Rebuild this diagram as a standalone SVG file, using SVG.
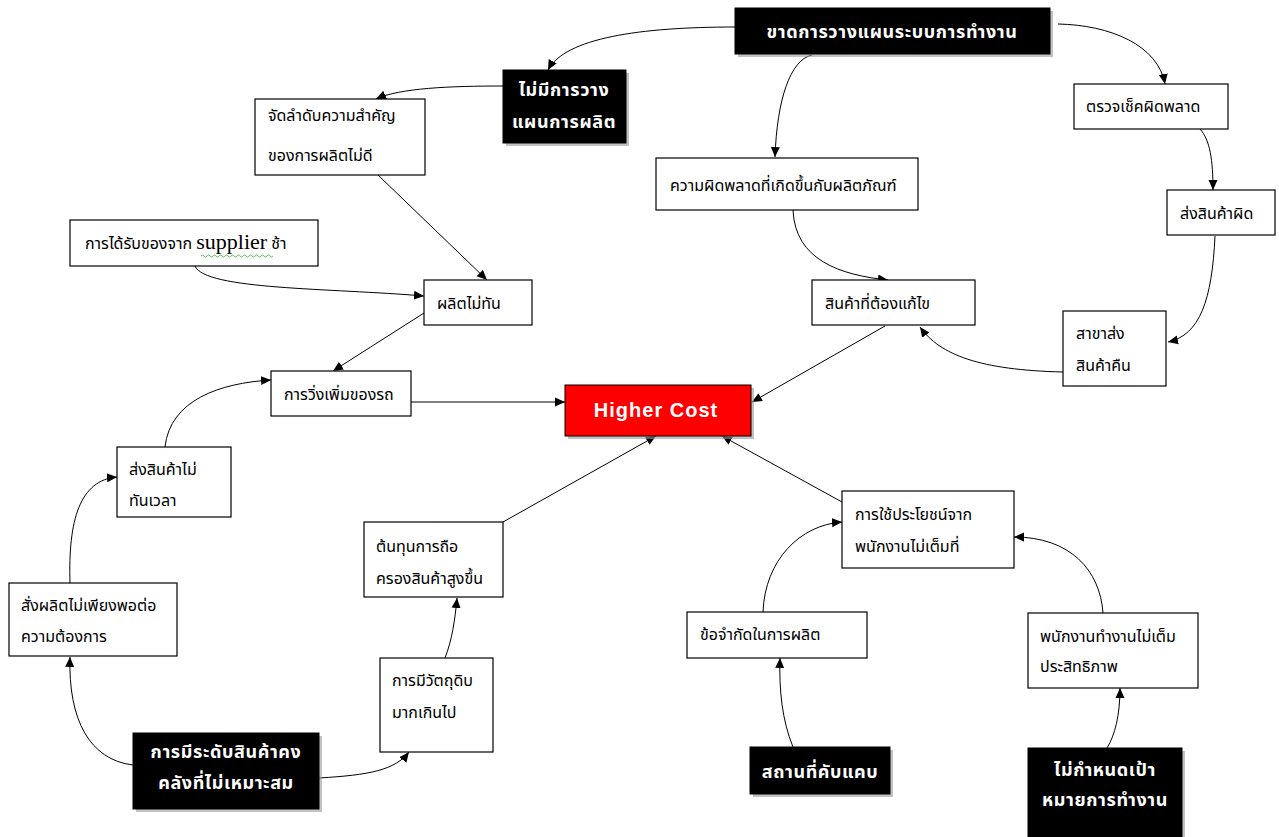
<svg xmlns="http://www.w3.org/2000/svg" width="1279" height="837" viewBox="0 0 1279 837">
<defs>
<marker id="ah" viewBox="0 0 10 10" refX="10" refY="5" markerWidth="10" markerHeight="10" markerUnits="userSpaceOnUse" orient="auto">
<path d="M0,0.5 L10,5 L0,9.5 z" fill="#000"/>
</marker>
<style>
.box{fill:#fff;stroke:#000;stroke-width:1.2}
.blk{fill:#000;stroke:#000;stroke-width:1}
.shd{fill:#9a9a9a;opacity:0.6}
.t{font-family:"Noto Sans Thai","Liberation Sans",sans-serif;font-size:16px;fill:#000}
.tw{font-family:"Noto Sans Thai","Liberation Sans",sans-serif;font-size:18px;font-weight:bold;fill:#fff;text-anchor:middle;letter-spacing:0.6px}
.c{fill:none;stroke:#000;stroke-width:1;marker-end:url(#ah)}
</style>
</defs>
<rect width="1279" height="837" fill="#fff"/>
<g id="connectors">
<path class="c" d="M735,27 C640,27 565,38 548,70"/>
<path class="c" d="M503,86 C450,86 400,88 376,99"/>
<path class="c" d="M812,55 C790,60 777,100 775,157"/>
<path class="c" d="M1058,24 C1110,25 1158,45 1165,84"/>
<path class="c" d="M1200,129 C1210,140 1213,160 1213,190"/>
<path class="c" d="M1215,236 C1212,300 1200,335 1168,342"/>
<path class="c" d="M1063,372 C980,370 940,355 920,327"/>
<path class="c" d="M793,210 C795,260 840,275 888,280"/>
<path class="c" d="M885,326 L752,402"/>
<path class="c" d="M378,175 L487,280"/>
<path class="c" d="M195,266 C205,290 330,288 424,296"/>
<path class="c" d="M424,313 L333,371"/>
<path class="c" d="M411,402 L565,402"/>
<path class="c" d="M165,447 C170,400 220,383 271,380"/>
<path class="c" d="M70,583 C68,520 80,480 117,477"/>
<path class="c" d="M133,765 C90,760 68,720 70,657"/>
<path class="c" d="M319,778 C370,775 395,770 409,752"/>
<path class="c" d="M445,658 C452,640 455,620 457,598"/>
<path class="c" d="M503,522 L656,436"/>
<path class="c" d="M842,502 L722,436"/>
<path class="c" d="M763,612 C765,560 800,525 842,522"/>
<path class="c" d="M1103,613 C1100,570 1070,537 1014,537"/>
<path class="c" d="M793,747 C782,720 779,690 780,658"/>
<path class="c" d="M1107,748 C1115,735 1120,715 1120,688"/>
</g>
<g id="nA"><rect class="shd" x="738" y="11" width="315" height="46"/><rect class="blk" x="735" y="8" width="315" height="46"/><text class="tw" x="892" y="38">ขาดการวางแผนระบบการทำงาน</text></g>
<g id="nB"><rect class="shd" x="506" y="73" width="123" height="73"/><rect class="blk" x="503" y="70" width="123" height="73"/><text class="tw" x="564" y="96">ไม่มีการวาง</text><text class="tw" x="564" y="128">แผนการผลิต</text></g>
<g id="nC"><rect class="box" x="255" y="99" width="170" height="76"/><text class="t" x="268" y="121">จัดลำดับความสำคัญ</text><text class="t" x="268" y="161">ของการผลิตไม่ดี</text></g>
<g id="nD"><rect class="box" x="70" y="220" width="248" height="46"/><text class="t" x="85" y="249">การได้รับของจาก <tspan style="font-family:'Liberation Serif',serif;font-size:22px">supplier</tspan> ช้า</text><path d="M201,256 q1.5,-2 3,0 t3,0 t3,0 t3,0 t3,0 t3,0 t3,0 t3,0 t3,0 t3,0 t3,0 t3,0 t3,0 t3,0 t3,0 t3,0 t3,0 t3,0 t3,0 t3,0 t3,0 t3,0 t3,0 t3,0" fill="none" stroke="#3a3" stroke-width="0.8"/></g>
<g id="nE"><rect class="box" x="424" y="280" width="108" height="45"/><text class="t" x="437" y="309">ผลิตไม่ทัน</text></g>
<g id="nF"><rect class="box" x="271" y="371" width="140" height="45"/><text class="t" x="284" y="400">การวิ่งเพิ่มของรถ</text></g>
<g id="nG"><rect class="shd" x="568" y="388" width="186" height="51"/><rect x="565" y="385" width="186" height="51" fill="#f00" stroke="#000" stroke-width="1"/><text x="656" y="417" text-anchor="middle" style="font-family:'Liberation Sans',Arial,sans-serif;font-size:20px;font-weight:bold;fill:#fff;letter-spacing:1px">Higher Cost</text></g>
<g id="nH"><rect class="box" x="656" y="158" width="262" height="52"/><text class="t" x="670" y="191">ความผิดพลาดที่เกิดขึ้นกับผลิตภัณฑ์</text></g>
<g id="nI"><rect class="box" x="1074" y="84" width="154" height="45"/><text class="t" x="1086" y="112">ตรวจเช็คผิดพลาด</text></g>
<g id="nJ"><rect class="box" x="1167" y="190" width="108" height="45"/><text class="t" x="1180" y="219">ส่งสินค้าผิด</text></g>
<g id="nK"><rect class="box" x="812" y="280" width="163" height="45"/><text class="t" x="825" y="309">สินค้าที่ต้องแก้ไข</text></g>
<g id="nL"><rect class="box" x="1063" y="311" width="103" height="75"/><text class="t" x="1076" y="339">สาขาส่ง</text><text class="t" x="1076" y="371">สินค้าคืน</text></g>
<g id="nM"><rect class="box" x="117" y="447" width="114" height="70"/><text class="t" x="129" y="475">ส่งสินค้าไม่</text><text class="t" x="129" y="506">ทันเวลา</text></g>
<g id="nN"><rect class="box" x="364" y="522" width="139" height="75"/><text class="t" x="376" y="552">ต้นทุนการถือ</text><text class="t" x="376" y="584">ครองสินค้าสูงขึ้น</text></g>
<g id="nO"><rect class="box" x="9" y="583" width="168" height="73"/><text class="t" x="21" y="611">สั่งผลิตไม่เพียงพอต่อ</text><text class="t" x="21" y="642">ความต้องการ</text></g>
<g id="nP"><rect class="box" x="380" y="658" width="113" height="94"/><text class="t" x="392" y="686">การมีวัตถุดิบ</text><text class="t" x="392" y="718">มากเกินไป</text></g>
<g id="nQ"><rect class="box" x="842" y="491" width="172" height="77"/><text class="t" x="855" y="520">การใช้ประโยชน์จาก</text><text class="t" x="855" y="552">พนักงานไม่เต็มที่</text></g>
<g id="nR"><rect class="box" x="687" y="612" width="180" height="46"/><text class="t" x="700" y="640">ข้อจำกัดในการผลิต</text></g>
<g id="nS"><rect class="box" x="1028" y="613" width="170" height="75"/><text class="t" x="1040" y="642">พนักงานทำงานไม่เต็ม</text><text class="t" x="1040" y="672">ประสิทธิภาพ</text></g>
<g id="nT"><rect class="shd" x="753" y="750" width="140" height="47"/><rect class="blk" x="750" y="747" width="140" height="47"/><text class="tw" x="820" y="778">สถานที่คับแคบ</text></g>
<g id="nU"><rect class="shd" x="1031" y="751" width="154" height="89"/><rect class="blk" x="1028" y="748" width="154" height="90"/><text class="tw" x="1105" y="776">ไม่กำหนดเป้า</text><text class="tw" x="1105" y="806">หมายการทำงาน</text></g>
<g id="nV"><rect class="shd" x="136" y="736" width="186" height="76"/><rect class="blk" x="133" y="733" width="186" height="76"/><text class="tw" x="226" y="758">การมีระดับสินค้าคง</text><text class="tw" x="226" y="789">คลังที่ไม่เหมาะสม</text></g>
</svg>
